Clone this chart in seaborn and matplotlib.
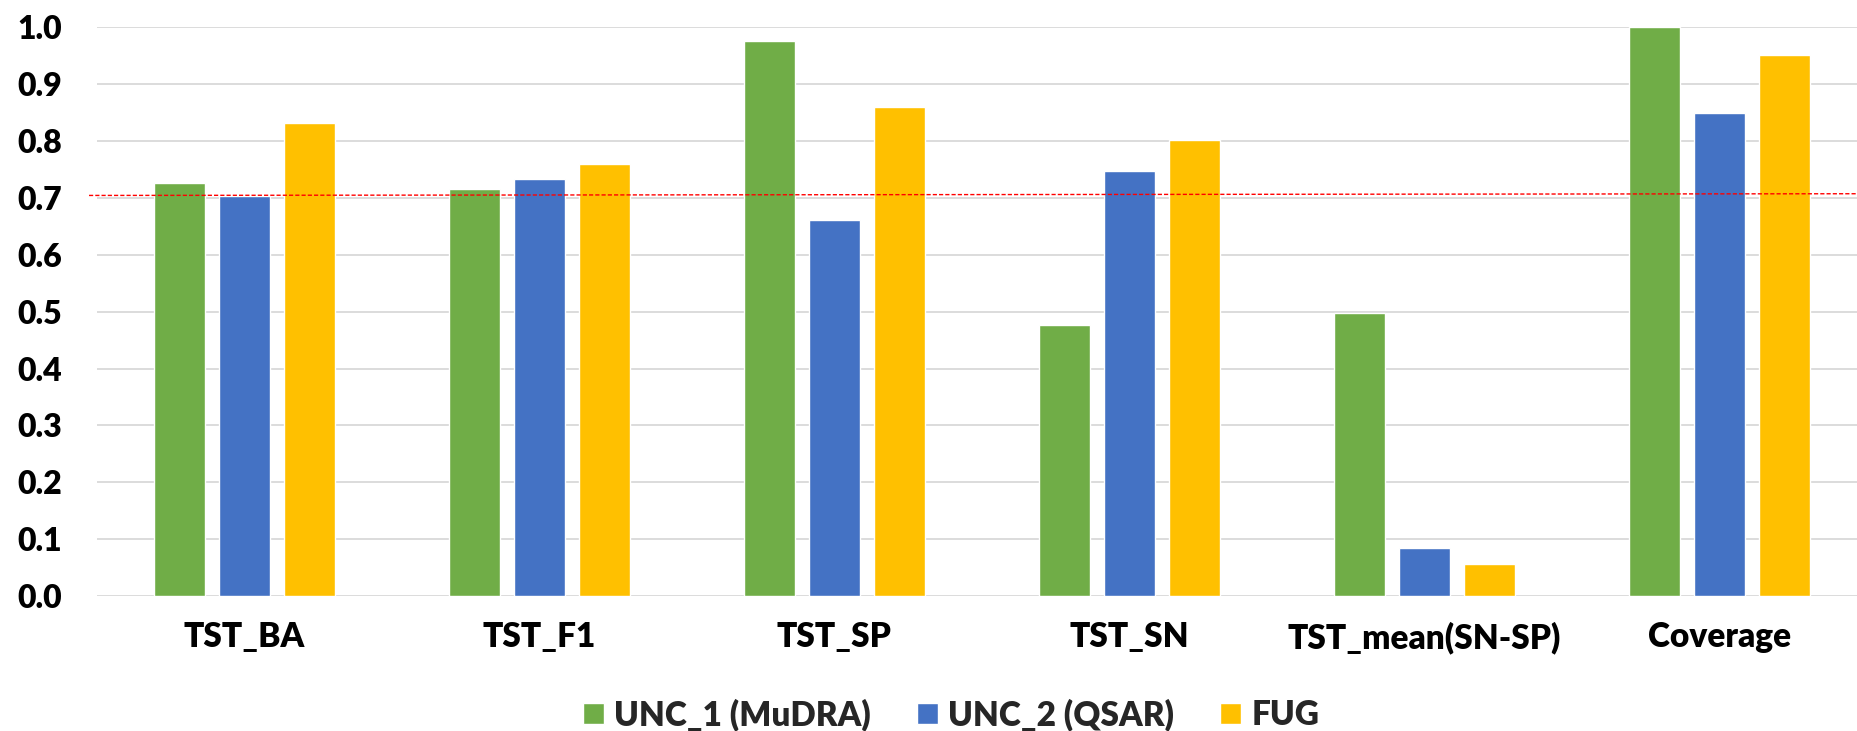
import matplotlib
matplotlib.use("Agg")
import matplotlib.pyplot as plt
import seaborn as sns
import pandas as pd

categories = ["TST_BA", "TST_F1", "TST_SP", "TST_SN", "TST_mean(SN-SP)", "Coverage"]
series_names = ["UNC_1 (MuDRA)", "UNC_2 (QSAR)", "FUG"]
unc1 = [0.726, 0.716, 0.976, 0.476, 0.498, 1.000]
unc2 = [0.703, 0.733, 0.661, 0.747, 0.084, 0.849]
fug = [0.831, 0.759, 0.859, 0.802, 0.056, 0.950]
threshold_left = 0.704
threshold_right = 0.707
yticks = [0.0, 0.1, 0.2, 0.3, 0.4, 0.5, 0.6, 0.7, 0.8, 0.9, 1.0]
colors = ["#70AD47", "#4472C4", "#FFC000"]

rows = []
for name, vals in zip(series_names, [unc1, unc2, fug]):
    for c, v in zip(categories, vals):
        rows.append({"Metric": c, "Model": name, "Value": v})
df = pd.DataFrame(rows)

sns.set_theme(style="white")
plt.rcParams["font.family"] = ["Lato", "DejaVu Sans"]
plt.rcParams["font.weight"] = "heavy"

fig = plt.figure(figsize=(18.58, 7.31), dpi=100)
ax = fig.add_axes([0.0522, 0.1843, 0.9478, 0.7789])

sns.barplot(data=df, x="Metric", y="Value", hue="Model", order=categories,
            hue_order=series_names, palette=colors, width=0.663, gap=0.213,
            saturation=1, errorbar=None, ax=ax, zorder=3, legend=True)

ax.set_ylim(0, 1.0)
ax.set_xlim(-0.5, 5.47)
ax.set_yticks(yticks)
ax.set_yticklabels([f"{t:.1f}" for t in yticks])
ax.grid(axis="y", color="#D9D9D9", linewidth=1.3, zorder=0)
ax.grid(axis="x", visible=False)
for s in ax.spines.values():
    s.set_visible(False)
ax.tick_params(axis="y", length=0, pad=25, labelsize=23)
ax.tick_params(axis="x", length=0, pad=18, labelsize=24)
for lab in ax.get_xticklabels() + ax.get_yticklabels():
    lab.set_fontweight("heavy")
    lab.set_color("black")
ax.set_xlabel("")
ax.set_ylabel("")

ax.plot([-0.527, 5.47], [threshold_left, threshold_right], color="red",
        linestyle=(0, (3, 1.5)), linewidth=1.0, zorder=4, clip_on=False)

handles, labels = ax.get_legend_handles_labels()
ax.legend_.remove()
fig.legend(handles, labels, loc="center", bbox_to_anchor=(0.512, 0.022),
           ncol=3, frameon=False, handlelength=0.63,
           handleheight=0.63, handletextpad=0.3, columnspacing=1.38,
           prop={"weight": "heavy", "size": 24})

fig.savefig("out.png", dpi=100)
